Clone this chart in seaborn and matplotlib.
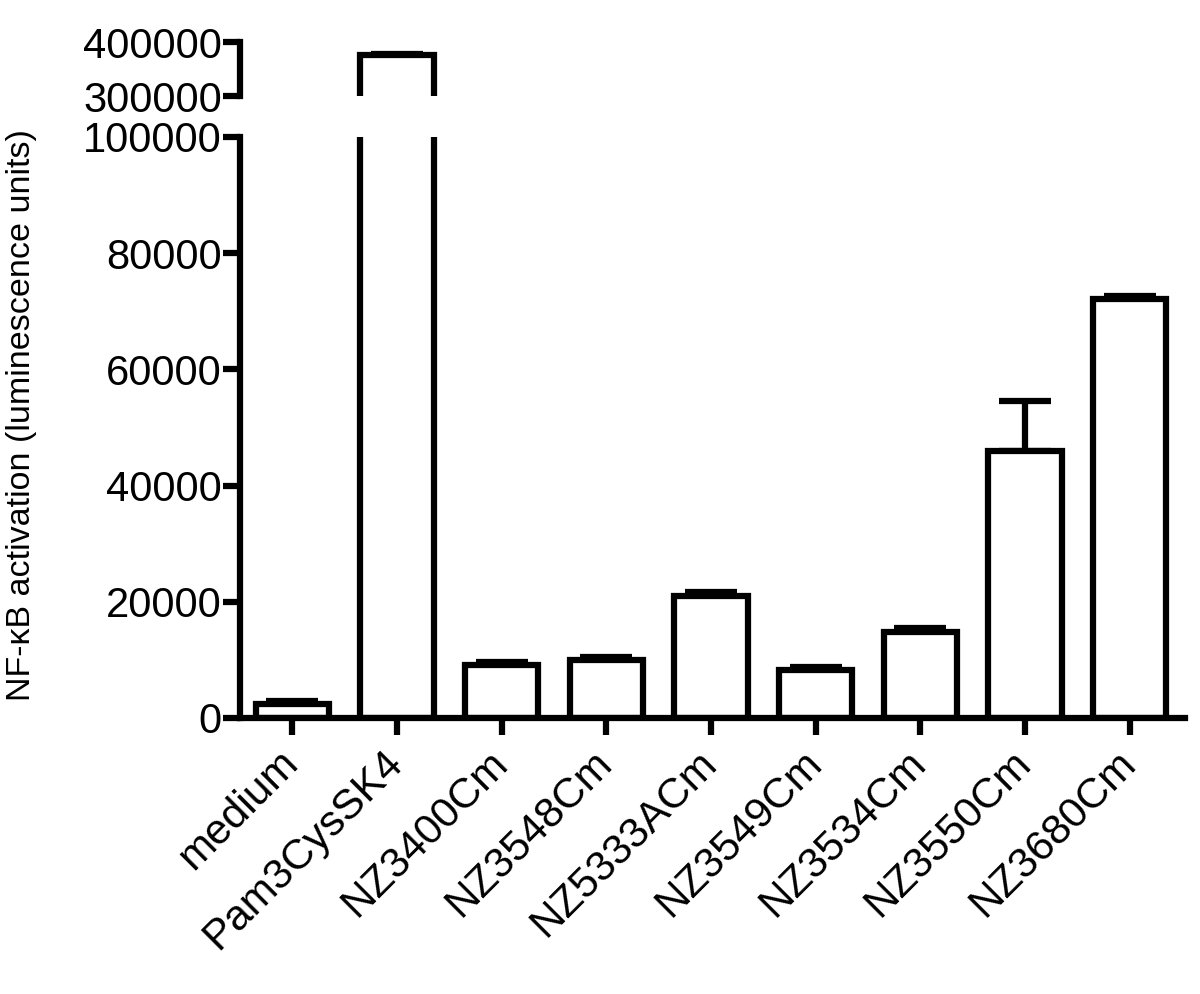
import matplotlib
matplotlib.use("Agg")
import matplotlib.pyplot as plt
import seaborn as sns
import pandas as pd

# values
groups = ["medium", "Pam3CysSK4", "NZ3400Cm", "NZ3548Cm", "NZ5333ACm",
          "NZ3549Cm", "NZ3534Cm", "NZ3550Cm", "NZ3680Cm"]
means = [2400, 376000, 9100, 10000, 21000, 8300, 14800, 46000, 72100]
errors = [500, 2500, 600, 500, 700, 400, 600, 8600, 500]

data = pd.DataFrame({"group": groups, "mean": means})

sns.set_style("ticks", {"axes.edgecolor": "black", "xtick.color": "black",
                        "ytick.color": "black", "text.color": "black"})
plt.rcParams["font.family"] = ["Liberation Sans", "DejaVu Sans"]

fig = plt.figure(figsize=(12, 9.94), dpi=100)
ax_top = fig.add_axes([0.2, 0.9034, 0.7875, 0.0543])
ax_bot = fig.add_axes([0.2, 0.2777, 0.7875, 0.5845])

lw = 4.5
for ax in (ax_top, ax_bot):
    sns.barplot(data=data, x="group", y="mean", ax=ax, color="white",
                edgecolor="black", linewidth=lw, width=0.7, errorbar=None,
                zorder=2)
    lower = [0] * len(errors)
    ax.errorbar(range(len(groups)), means, yerr=[lower, errors], fmt="none",
                ecolor="black", elinewidth=lw, capsize=19, capthick=lw,
                zorder=1)
    ax.set_xlim(-0.5, 8.53)
    ax.set_xlabel("")
    ax.set_ylabel("")
    for s in ("top", "right"):
        ax.spines[s].set_visible(False)
    ax.spines["left"].set_linewidth(lw)
    ax.spines["bottom"].set_linewidth(lw)
    ax.spines["left"].set_color("black")
    ax.spines["bottom"].set_color("black")
    ax.tick_params(axis="both", direction="out", length=12, width=lw,
                   labelsize=30, colors="black")
    ax.patch.set_alpha(0)

ax_top.set_ylim(300000, 400000)
ax_top.set_yticks([300000, 400000])
ax_top.set_yticklabels(["300000", "400000"])
ax_top.spines["bottom"].set_visible(False)
ax_top.tick_params(axis="x", bottom=False, labelbottom=False)
ax_top.tick_params(axis="y", pad=1)

ax_bot.set_ylim(0, 100000)
ax_bot.set_yticks(range(0, 100001, 20000))
ax_bot.set_yticklabels([str(v) for v in range(0, 100001, 20000)])
ax_bot.tick_params(axis="y", pad=1)
ax_bot.set_xticks(range(len(groups)))
ax_bot.set_xticklabels(groups, rotation=45, ha="right", va="center",
                       rotation_mode="anchor", fontsize=30.5)
ax_bot.tick_params(axis="x", pad=16)

fig.text(0.018, 0.582, "NF-\u03baB activation (luminescence units)",
         rotation=90, ha="center", va="center", fontsize=24.5)

fig.savefig("out.png", dpi=100)
